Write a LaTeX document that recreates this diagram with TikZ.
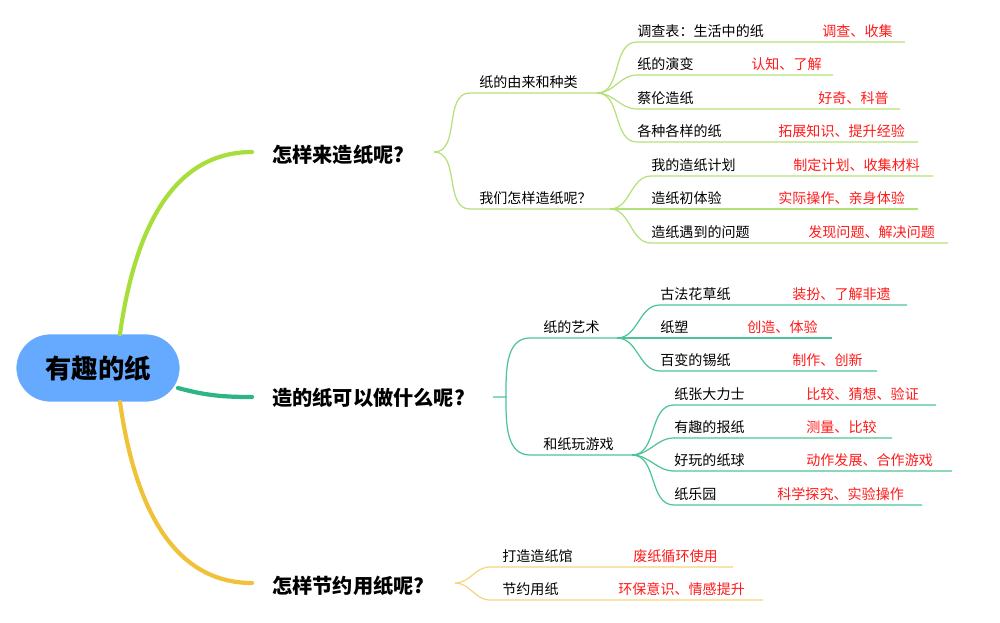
\documentclass[tikz,border=0pt]{standalone}
\usepackage{fontspec}
\setmainfont{Noto Sans CJK SC}
\usetikzlibrary{positioning}
\definecolor{rootblue}{HTML}{66AAFF}
\definecolor{lime}{HTML}{A8DE3C}
\definecolor{limethin}{HTML}{B4E07A}
\definecolor{sea}{HTML}{2EB584}
\definecolor{seathin}{HTML}{4CC495}
\definecolor{gold}{HTML}{F0C23A}
\definecolor{goldthin}{HTML}{F5D67E}
\definecolor{note}{HTML}{FF1A1A}

\begin{document}
\begin{tikzpicture}[
  x=0.02cm,y=-0.02cm,
  rootbox/.style={fill=rootblue,draw=white,line width=1pt,rounded corners=0.69cm,
    minimum width=3.3cm,minimum height=1.38cm,font=\fontsize{15}{18}\selectfont\bfseries},
  topic/.style={anchor=west,inner sep=0,font=\fontsize{11.5}{14}\selectfont\bfseries},
  sub/.style={anchor=south west,inner xsep=0,inner ysep=2.5pt,font=\fontsize{8}{10}\selectfont},
  aim/.style={sub,text=note},
  trunk/.style={line width=2.4pt,line cap=round},
  twig/.style={line width=0.7pt},
  br/.style={out=0,in=180}
]
\useasboundingbox (0,0) rectangle (1000,622);

\node[rootbox] (root) at (98,368) {有趣的纸};

\node[topic] (make) at (272,155) {怎样来造纸呢?};
\node[topic] (use) at (272,398) {造的纸可以做什么呢?};
\node[topic] (save) at (272,586) {怎样节约用纸呢?};

\draw[trunk,lime] (120,334) to[out=82,in=180] (252,152);
\draw[trunk,sea] (178,388) to[out=-15,in=180] (252,397);
\draw[trunk,gold] (120,402) to[out=-82,in=180] (252,583);

% making paper
\coordinate (hubA) at (434,152);
\node[sub] (origin) at (479,93) {纸的由来和种类};
\node[sub] (howmake) at (479,209) {我们怎样造纸呢？};
\coordinate (hubA1) at (597,93);
\coordinate (hubA2) at (610,209);
\draw[twig,limethin] (hubA) to[br] (470,93) -- (hubA1);
\draw[twig,limethin] (hubA) to[br] (470,209) -- (hubA2);
\foreach \n/\y/\txt/\rx/\red/\ex in {
  1/42/调查表：生活中的纸/822/调查、收集/905,
  2/75/纸的演变/751/认知、了解/833,
  3/109/蔡伦造纸/818/好奇、科普/900,
  4/142/各种各样的纸/778/拓展知识、提升经验/918}
{
  \node[sub] (s\n) at (637,\y) {\txt};
  \node[aim] (rs\n) at (\rx,\y) {\red};
  \draw[twig,limethin] (hubA1) to[br] (s\n.south west) -- (\ex,\y);
}
\foreach \n/\y/\txt/\rx/\red/\ex in {
  1/176/我的造纸计划/793/制定计划、收集材料/933,
  2/209/造纸初体验/778/实际操作、亲身体验/918,
  3/243/造纸遇到的问题/808/发现问题、解决问题/948}
{
  \node[sub] (t\n) at (651,\y) {\txt};
  \node[aim] (rt\n) at (\rx,\y) {\red};
  \draw[twig,limethin] (hubA2) to[br] (t\n.south west) -- (\ex,\y);
}

% using paper
\coordinate (hubB) at (493,397);
\node[sub] (art) at (543,338) {纸的艺术};
\node[sub] (play) at (543,455) {和纸玩游戏};
\coordinate (hubB1) at (617,338);
\coordinate (hubB2) at (632,455);
\draw[twig,seathin] (hubB) -- (506,397) to[out=-90,in=180] (530,455) -- (hubB2);
\draw[twig,seathin] (506,397) to[out=90,in=180] (530,338) -- (hubB1);
\foreach \n/\y/\txt/\rx/\red/\ex in {
  1/305/古法花草纸/792/装扮、了解非遗/907,
  2/338/纸塑/747/创造、体验/832,
  3/371/百变的锡纸/792/制作、创新/877}
{
  \node[sub] (a\n) at (660,\y) {\txt};
  \node[aim] (ra\n) at (\rx,\y) {\red};
  \draw[twig,seathin] (hubB1) to[br] (a\n.south west) -- (\ex,\y);
}
\foreach \n/\y/\txt/\rx/\red/\ex in {
  1/405/纸张大力士/806/比较、猜想、验证/936,
  2/438/有趣的报纸/806/测量、比较/892,
  3/471/好玩的纸球/806/动作发展、合作游戏/952,
  4/505/纸乐园/777/科学探究、实验操作/922}
{
  \node[sub] (g\n) at (674,\y) {\txt};
  \node[aim] (rg\n) at (\rx,\y) {\red};
  \draw[twig,seathin] (hubB2) to[br] (g\n.south west) -- (\ex,\y);
}

% saving paper
\coordinate (hubC) at (455,583);
\node[sub] (hall) at (502,567) {打造造纸馆};
\node[aim] (rhall) at (633,567) {废纸循环使用};
\node[sub] (saving) at (502,600) {节约用纸};
\node[aim] (rsaving) at (618,600) {环保意识、情感提升};
\draw[twig,goldthin] (hubC) to[br] (490,567) -- (733,567);
\draw[twig,goldthin] (hubC) to[br] (490,600) -- (763,600);
\end{tikzpicture}
\end{document}
